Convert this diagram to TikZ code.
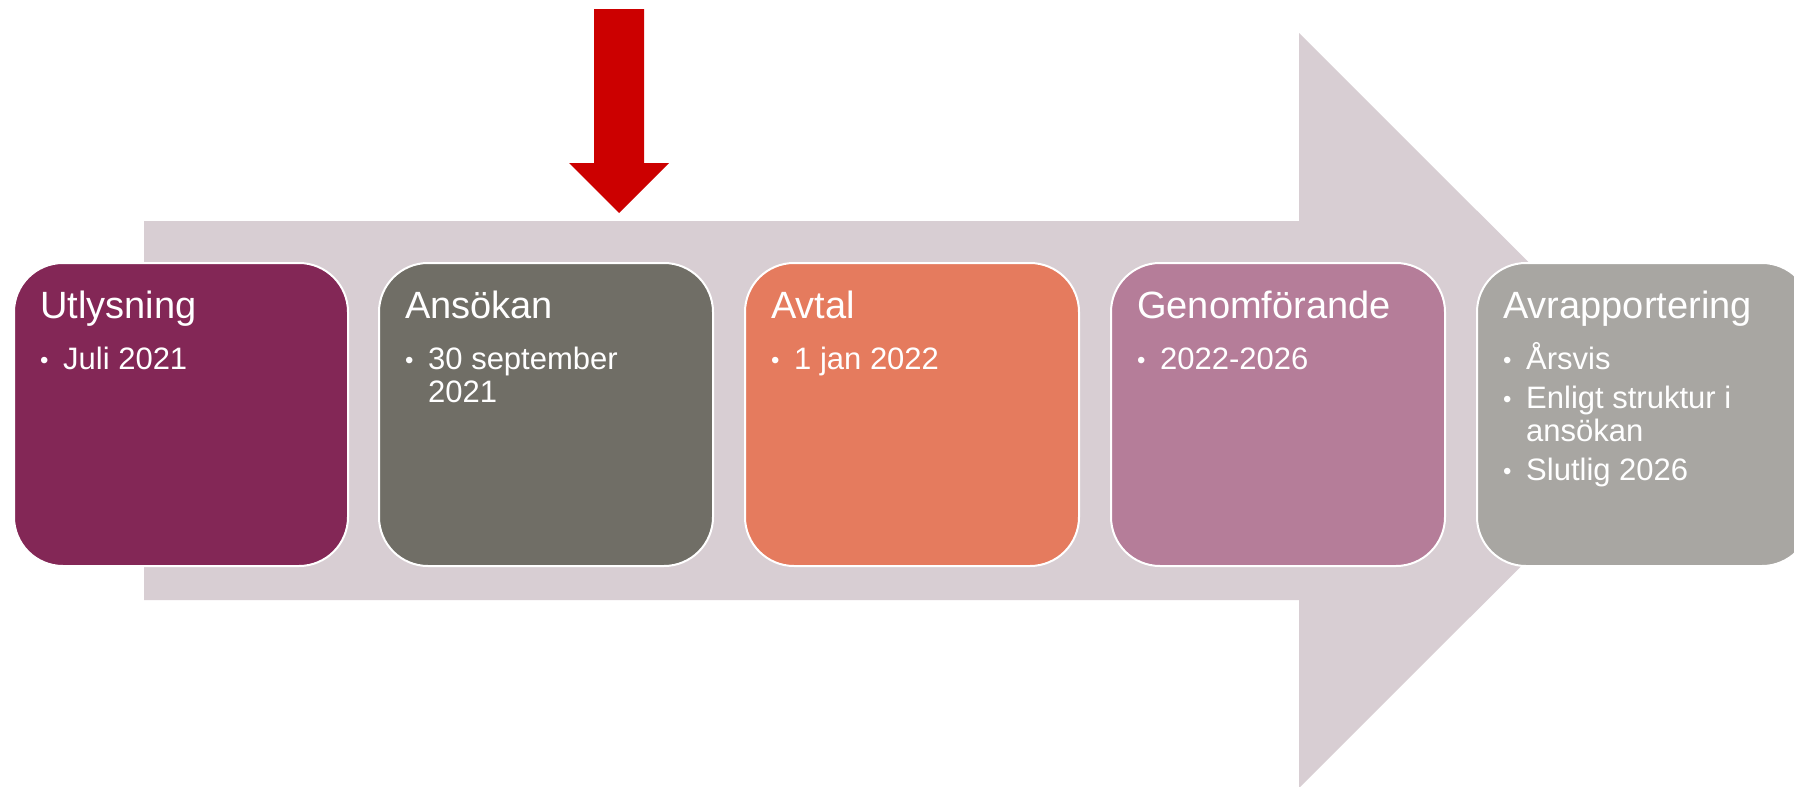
\documentclass[tikz,border=0pt]{standalone}
\usepackage{fontspec}
\setmainfont{Liberation Sans}
\definecolor{band}{HTML}{D8CED3}
\definecolor{cA}{HTML}{832756}
\definecolor{cB}{HTML}{706E66}
\definecolor{cC}{HTML}{E57B5E}
\definecolor{cD}{HTML}{B57D99}
\definecolor{cE}{HTML}{A8A6A2}
\definecolor{redarrow}{HTML}{CC0000}
\newcommand{\bul}[1]{\par\hangindent=23pt\hangafter=1\noindent\makebox[23pt][l]{\raisebox{1pt}{\fontsize{24}{24}\selectfont •}}#1}
\newcommand{\blist}[1]{\parbox[t]{300pt}{\fontsize{31}{33}\selectfont\setlength{\parskip}{6pt}\raggedright #1}}
\tikzset{
  stagebox/.style={draw=white, line width=2pt, rounded corners=49pt,
    minimum width=334pt, minimum height=303pt, anchor=north west, inner sep=0pt},
  stagetitle/.style={anchor=base west, text=white, inner sep=0pt,
    font=\fontsize{38}{42}\selectfont},
  stagelist/.style={anchor=base west, text=white, inner sep=0pt},
}
\begin{document}
\begin{tikzpicture}[x=1pt,y=-1pt]
\useasboundingbox (0,0) rectangle (1794,787);
\clip (0,0) rectangle (1794,787);
\fill[white] (0,0) rectangle (1794,787);
% big background arrow
\fill[band] (144,221) -- (1299,221) -- (1299,33) -- (1677,410.5) -- (1299,788)
  -- (1299,600) -- (144,600) -- cycle;
% red arrow
\fill[redarrow] (594,9) -- (644,9) -- (644,163) -- (669,163) -- (619,213)
  -- (569,163) -- (594,163) -- cycle;
% stages
\node[stagebox, fill=cA] (s1) at (13,262) {};
\node[stagebox, fill=cB] (s2) at (378,262) {};
\node[stagebox, fill=cC] (s3) at (744,262) {};
\node[stagebox, fill=cD] (s4) at (1110,262) {};
\node[stagebox, fill=cE] (s5) at (1476,262) {};
% titles
\node[stagetitle] (t1) at ([shift={(27pt,-56pt)}]s1.north west) {Utlysning};
\node[stagetitle] (t2) at ([shift={(27pt,-56pt)}]s2.north west) {Ansökan};
\node[stagetitle] (t3) at ([shift={(27pt,-56pt)}]s3.north west) {Avtal};
\node[stagetitle] (t4) at ([shift={(27pt,-56pt)}]s4.north west) {Genomförande};
\node[stagetitle] (t5) at ([shift={(27pt,-56pt)}]s5.north west) {Avrapportering};
% lists
\node[stagelist] (l1) at ([shift={(27pt,-107pt)}]s1.north west) {\blist{\bul{Juli 2021}}};
\node[stagelist] (l2) at ([shift={(27pt,-107pt)}]s2.north west) {\blist{\bul{30 september\newline 2021}}};
\node[stagelist] (l3) at ([shift={(27pt,-107pt)}]s3.north west) {\blist{\bul{1 jan 2022}}};
\node[stagelist] (l4) at ([shift={(27pt,-107pt)}]s4.north west) {\blist{\bul{2022-2026}}};
\node[stagelist] (l5) at ([shift={(27pt,-107pt)}]s5.north west) {\blist{\bul{Årsvis}\bul{Enligt struktur i\newline ansökan}\bul{Slutlig 2026}}};
\end{tikzpicture}
\end{document}
